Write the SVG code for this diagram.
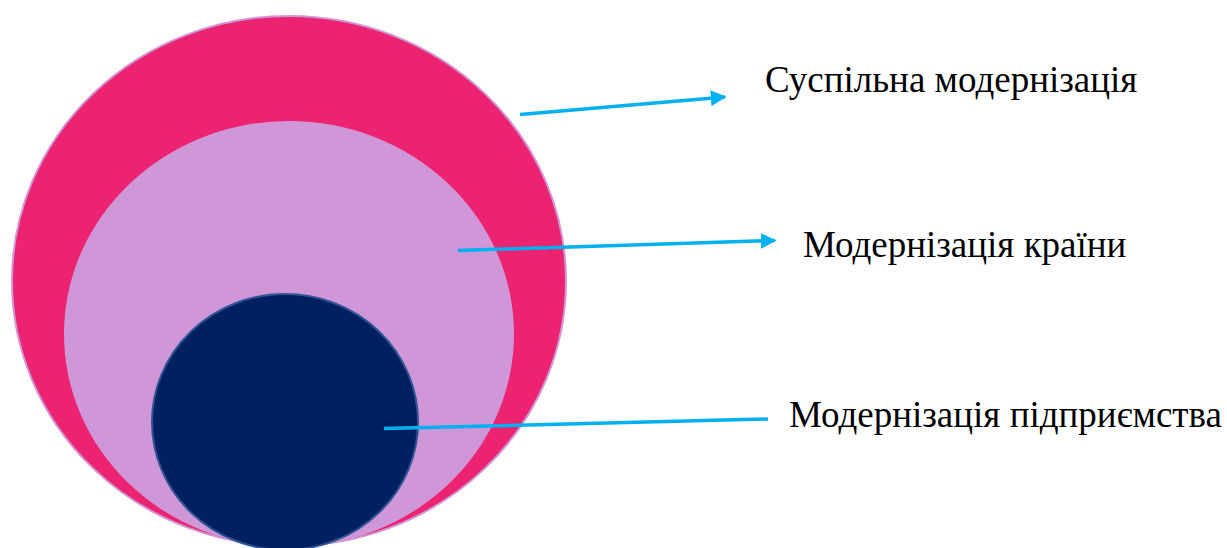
<svg xmlns="http://www.w3.org/2000/svg" width="1227" height="548" viewBox="0 0 1227 548">
<style>
.conn{stroke:#00B0F0;stroke-width:3.5;fill:none}
</style>
<defs>
<marker id="ah" viewBox="0 0 10 10" refX="9" refY="5" markerWidth="4.5" markerHeight="4.5" orient="auto" markerUnits="strokeWidth">
<path d="M0,0 L10,5 L0,10 z" fill="#00B0F0"/>
</marker>
</defs>
<rect width="1227" height="548" fill="#fff"/>
<g id="outer"><ellipse cx="289" cy="281" rx="277" ry="265" fill="#EC2370" stroke="#CF97D7" stroke-width="2"/></g>
<g id="middle"><ellipse cx="289" cy="334" rx="225" ry="213" fill="#CF97D7"/></g>
<g id="inner"><ellipse cx="285" cy="422" rx="133" ry="128" fill="#002060" stroke="#2F5597" stroke-width="2"/></g>
<g id="connectors">
<line class="conn" x1="520" y1="114.5" x2="725" y2="97" marker-end="url(#ah)"/>
<line class="conn" x1="458" y1="250.5" x2="775" y2="240.5" marker-end="url(#ah)"/>
<line class="conn" x1="384" y1="428.5" x2="768" y2="419"/>
</g>
<g id="labels" font-family="Liberation Serif, DejaVu Serif, serif" font-size="37" fill="#000">
<text x="765" y="92">Суспільна модернізація</text>
<text x="803" y="257">Модернізація країни</text>
<text x="789" y="427">Модернізація підприємства</text>
</g>
</svg>
